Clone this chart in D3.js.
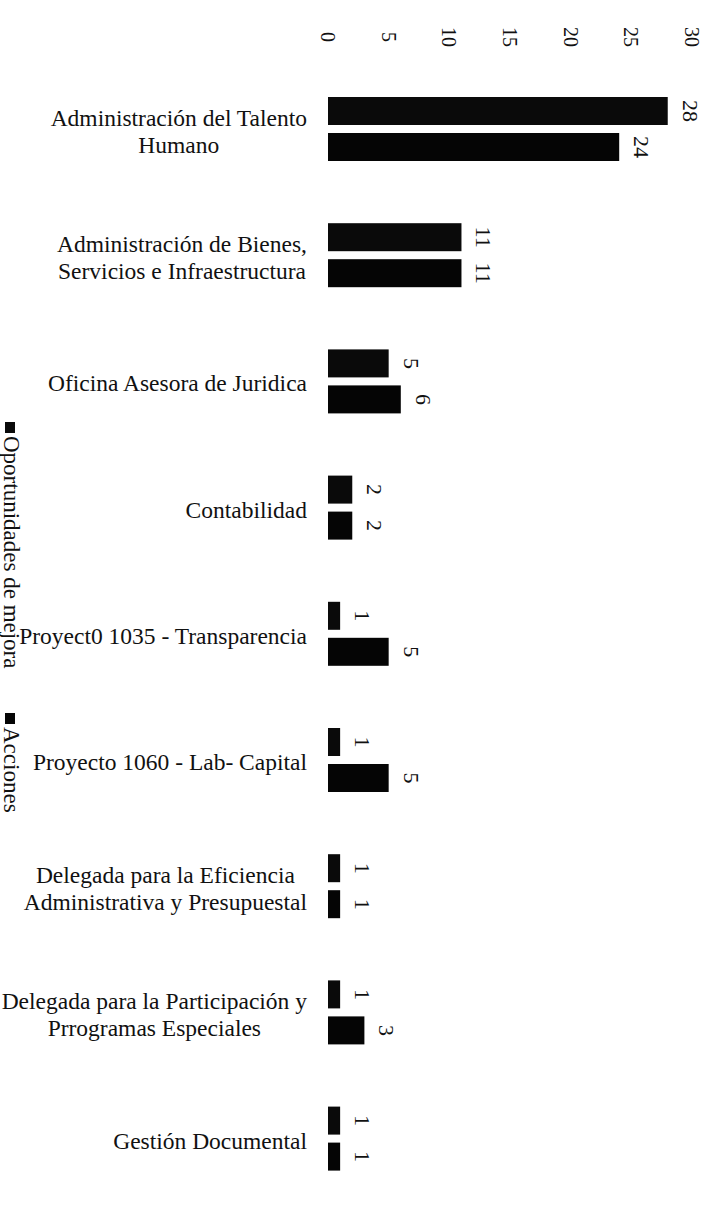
<!DOCTYPE html>
<html>
<head>
<meta charset="utf-8">
<script src="https://cdn.jsdelivr.net/npm/d3@7"></script>
<style>
  html, body { margin: 0; padding: 0; background: #fff; }
  svg { display: block; }
  text { font-family: "Liberation Serif", "Times New Roman", serif; fill: #111; }
</style>
</head>
<body>
<svg id="chart" width="721" height="1226"></svg>
<script>
const categories = [
  "Administración del Talento\nHumano",
  "Administración de Bienes,\nServicios e Infraestructura",
  "Oficina Asesora de Juridica",
  "Contabilidad",
  "Proyect0 1035 - Transparencia",
  "Proyecto 1060 - Lab- Capital",
  "Delegada para la Eficiencia\nAdministrativa y Presupuestal",
  "Delegada para la Participación y\nPrrogramas Especiales",
  "Gestión Documental"
];
const seriesNames = ["Oportunidades de mejora", "Acciones"];
const oportunidades = [28, 11, 5, 2, 1, 1, 1, 1, 1];
const acciones = [24, 11, 6, 2, 5, 5, 1, 3, 1];
const tickValues = [0, 5, 10, 15, 20, 25, 30];

const seriesValues = [oportunidades, acciones];
const colors = ["#0a0a0a", "#050505"];

const svg = d3.select("#chart");
const FS_TICK = 20;
const FS_VAL = 22;
const FS_CAT = 23.5;
const FS_LEG = 23;

const x = d3.scaleLinear().domain([0, 30]).range([328, 692]);
const step = 126.2;
const y = d3.scaleBand().domain(categories)
  .range([129 - step / 2, 129 + step * 8.5]).padding(0);
const ySub = d3.scaleBand().domain(seriesNames).range([-32, 32]).paddingInner(2 - 64 / 36);

// Tick labels (rotated)
const axisG = svg.append("g");
axisG.selectAll("text").data(tickValues).join("text")
  .attr("transform", d => `translate(${x(d) - 7},37) rotate(90)`)
  .attr("text-anchor", "middle")
  .attr("font-size", FS_TICK)
  .text(d => d);

// Bars
const groups = svg.append("g").selectAll("g").data(categories).join("g")
  .attr("transform", d => `translate(0,${y(d) + y.bandwidth() / 2})`);

seriesNames.forEach((s, si) => {
  groups.append("rect")
    .attr("x", x(0))
    .attr("y", ySub(s))
    .attr("width", (d, i) => x(seriesValues[si][i]) - x(0))
    .attr("height", ySub.bandwidth())
    .attr("fill", colors[si]);
  groups.append("text")
    .attr("transform", (d, i) => `translate(${x(seriesValues[si][i]) + 15},${ySub(s) + ySub.bandwidth() / 2}) rotate(90)`)
    .attr("text-anchor", "middle")
    .attr("font-size", FS_VAL)
    .text((d, i) => seriesValues[si][i]);
});

// Category labels (centered multi-line blocks, right aligned)
const rightEdge = 307;
const lineH = 27;
groups.each(function(d) {
  const g = d3.select(this);
  const lines = d.split("\n");
  const t = g.append("text").attr("font-size", FS_CAT);
  const spans = lines.map((ln, li) => t.append("tspan").text(ln)
    .attr("y", (li - (lines.length - 1) / 2) * lineH + 10));
  const widths = spans.map(sp => sp.node().getComputedTextLength());
  const maxW = Math.max(...widths);
  const cx = rightEdge - maxW / 2;
  spans.forEach(sp => sp.attr("x", cx).attr("text-anchor", "middle"));
});

// Legend (rotated)
const legendY = [422, 713];
seriesNames.forEach((s, i) => {
  svg.append("rect").attr("x", 5).attr("y", legendY[i]).attr("width", 10).attr("height", 11)
    .attr("fill", colors[i]);
  svg.append("text")
    .attr("transform", `translate(4,${legendY[i] + 14}) rotate(90)`)
    .attr("font-size", FS_LEG)
    .text(s);
});
</script>
</body>
</html>
